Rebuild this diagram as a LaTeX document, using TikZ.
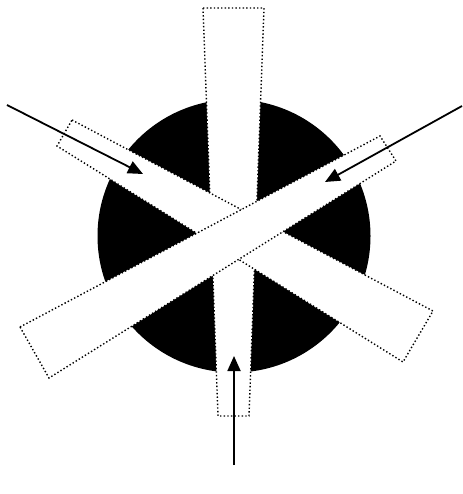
\documentclass[tikz,border=0pt]{standalone}
\usetikzlibrary{arrows.meta}
\begin{document}
\begin{tikzpicture}[x=1pt,y=-1pt,
  beam/.style={fill=white,draw=black,line width=1.4pt,dash pattern=on 1.4pt off 2.2pt},
  pointer/.style={draw=black,line width=1.8pt,-{Triangle[length=15pt,width=13pt]}}]
\useasboundingbox (0,0) rectangle (462,494);
\fill[black] (234,236) circle[radius=136.5];
% vertical tapered beam (bottom layer)
\draw[beam] (203,8) -- (264,8) -- (249,416) -- (218,416) -- cycle;
% beam from upper left to lower right
\draw[beam] (72,120) -- (433,311) -- (403,362) -- (57,146) -- cycle;
% beam from lower left to upper right (top layer)
\draw[beam] (20,327) -- (380,136) -- (396,161) -- (49,378) -- cycle;
% arrows
\coordinate (s1) at (7,105);
\coordinate (t1) at (143,174);
\coordinate (s2) at (462,106);
\coordinate (t2) at (325,182);
\coordinate (s3) at (234,465);
\coordinate (t3) at (234,356);
\draw[pointer] (s1) -- (t1);
\draw[pointer] (s2) -- (t2);
\draw[pointer] (s3) -- (t3);
\end{tikzpicture}
\end{document}
